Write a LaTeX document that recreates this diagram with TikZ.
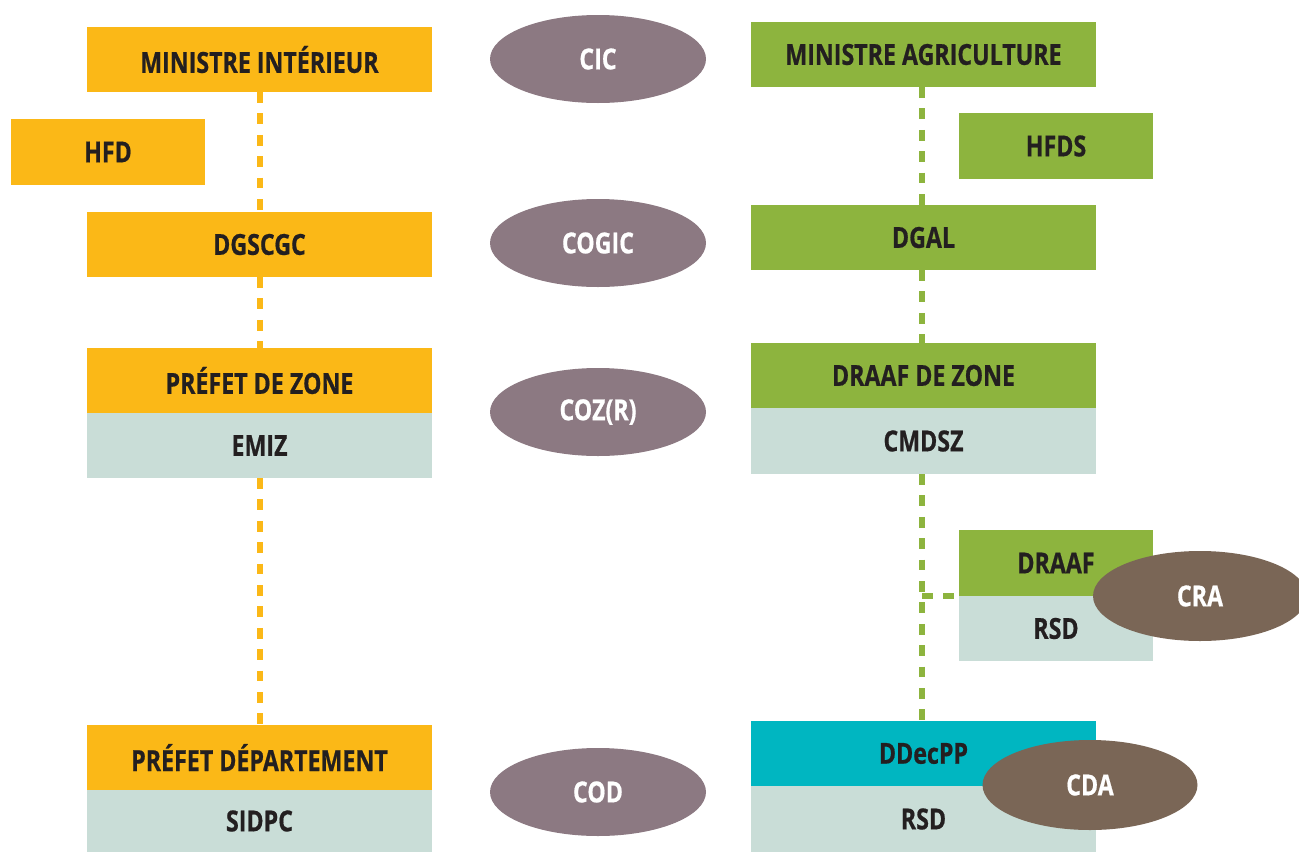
\documentclass[tikz,border=0pt]{standalone}
\usepackage{fontspec}
\newfontfamily\labelfont{Open Sans}[FakeStretch=0.8, BoldFeatures={FakeBold=0.6}]
\usetikzlibrary{shapes.geometric}
\definecolor{orangeb}{HTML}{FBB817}
\definecolor{greenb}{HTML}{8DB43E}
\definecolor{lightb}{HTML}{C9DDD7}
\definecolor{cyanb}{HTML}{00B6C1}
\definecolor{mauve}{HTML}{8C7982}
\definecolor{brownb}{HTML}{7A6656}
\definecolor{txt}{HTML}{231F20}
\tikzset{
  box/.style={rectangle, inner sep=0pt, outer sep=0pt, minimum width=345pt, minimum height=65pt, text=txt, font=\labelfont\bfseries\fontsize{29}{32}\selectfont},
  obox/.style={box, fill=orangeb},
  gbox/.style={box, fill=greenb},
  lbox/.style={box, fill=lightb},
  cbox/.style={box, fill=cyanb},
  small/.style={minimum width=194pt, minimum height=66pt},
  comm/.style={ellipse, inner sep=0pt, outer sep=0pt, minimum width=216pt, minimum height=88pt, fill=mauve, text=white, font=\labelfont\bfseries\fontsize{29}{32}\selectfont},
  commb/.style={comm, fill=brownb, minimum width=214pt, minimum height=90pt},
  olink/.style={draw=orangeb, line width=6pt, dash pattern=on 10.7pt off 10.7pt},
  glink/.style={draw=greenb, line width=6pt, dash pattern=on 10.7pt off 10.7pt}
}
\begin{document}
\begin{tikzpicture}[x=1pt, y=-1pt]
\useasboundingbox (0,0) rectangle (1299,852);
% left column
\node[obox] (mi) at (259.5,59.5) {MINISTRE INTÉRIEUR};
\node[obox, small] (hfd) at (108,152) {HFD};
\node[obox] (dgscgc) at (259.5,244.5) {DGSCGC};
\node[obox] (pz) at (259.5,380.5) {PRÉFET DE ZONE};
\node[lbox] (emiz) at (259.5,445.5) {EMIZ};
\node[obox] (pd) at (259.5,757.5) {PRÉFET DÉPARTEMENT};
\node[lbox, minimum height=62pt] (sidpc) at (259.5,821) {SIDPC};
% links left
\draw[olink] (mi.south) -- (dgscgc.north);
\draw[olink] (dgscgc.south) -- (pz.north);
\draw[olink] (emiz.south) -- (pd.north);
% committees
\node[comm] (cic) at (598,59) {CIC};
\node[comm] (cogic) at (598,243) {COGIC};
\node[comm] (coz) at (598,412) {COZ(R)};
\node[comm] (cod) at (598,792) {COD};
% right column
\node[gbox] (ma) at (923.5,54.5) {MINISTRE AGRICULTURE};
\node[gbox, small] (hfds) at (1056,146) {HFDS};
\node[gbox] (dgal) at (923.5,237.5) {DGAL};
\node[gbox] (dz) at (923.5,375.5) {DRAAF DE ZONE};
\node[lbox, minimum height=66pt] (cmdsz) at (923.5,441) {CMDSZ};
\node[gbox, small] (draaf) at (1056,563) {DRAAF};
\node[lbox, small, minimum height=65pt] (rsda) at (1056,628.5) {RSD};
\node[cbox] (ddecpp) at (923.5,753.5) {DDecPP};
\node[lbox, minimum height=66pt] (rsdb) at (923.5,819) {RSD};
% links right
\coordinate (j) at (922,596);
\draw[glink] ([xshift=-1.5pt]ma.south) -- ([xshift=-1.5pt]dgal.north);
\draw[glink] ([xshift=-1.5pt]dgal.south) -- ([xshift=-1.5pt]dz.north);
\draw[glink] ([xshift=-1.5pt]cmdsz.south) -- ([xshift=-1.5pt]ddecpp.north);
\draw[glink] (j) -- (draaf.south west);
% regional committees
\node[commb] (cra) at (1200,596) {CRA};
\node[commb, minimum width=215pt] (cda) at (1090,785) {CDA};
\end{tikzpicture}
\end{document}
